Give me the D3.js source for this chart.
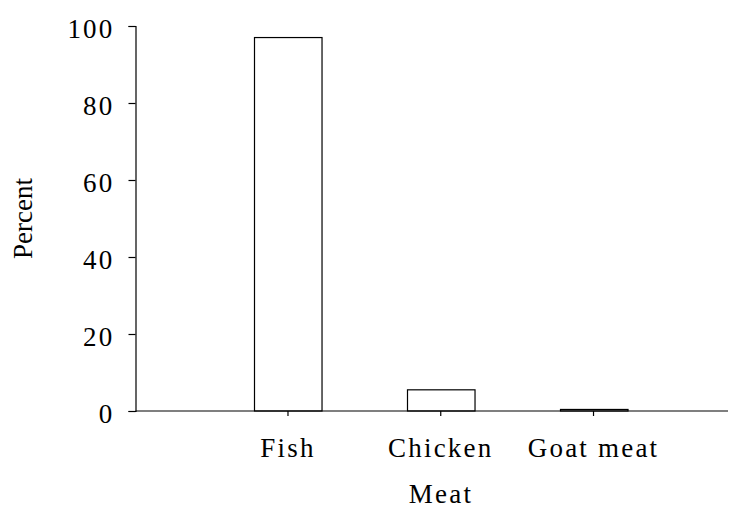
<!DOCTYPE html>
<html>
<head>
<meta charset="utf-8">
<script src="https://cdn.jsdelivr.net/npm/d3@7"></script>
<style>
  html, body { margin: 0; padding: 0; background: #fff; }
  svg { display: block; }
  text { font-family: "Liberation Serif", "Times New Roman", serif; fill: #000; }
</style>
</head>
<body>
<svg></svg>
<script>
// values
var categories = ['Fish', 'Chicken', 'Goat meat'];
var percents = [97, 5.5, 0.4];
var yTicks = [0, 20, 40, 60, 80, 100];

var width = 739;
var height = 509;

var svg = d3.select('svg')
  .attr('width', width)
  .attr('height', height);

var axisX = 135.5;   // y axis position
var axisEnd = 728;   // right end of category axis

var y = d3.scaleLinear()
  .domain([0, 100])
  .range([411, 26]);

var x = d3.scaleBand()
  .domain(categories)
  .range([211.6, 669.9])
  .paddingInner(0.558)
  .paddingOuter(0.279);

var data = categories.map((c, i) => ({ name: c, value: percents[i] }));

// bars
svg.selectAll('.bar')
  .data(data)
  .enter()
  .append('rect')
  .classed('bar', true)
  .attr('x', d => Math.round(x(d.name)) + 0.5)
  .attr('y', d => y(d.value))
  .attr('width', x.bandwidth())
  .attr('height', d => y(0) - y(d.value))
  .attr('fill', '#fff')
  .attr('stroke', '#000')
  .attr('stroke-width', 1.2);

// y axis
var yAxis = svg.append('g')
  .attr('transform', 'translate(' + axisX + ',0)')
  .call(d3.axisLeft(y).tickValues(yTicks).tickSize(7).tickPadding(14));

yAxis.select('.domain').attr('stroke', '#000').attr('stroke-width', 1.2);
yAxis.selectAll('.tick line').attr('stroke', '#000').attr('stroke-width', 1.2);
yAxis.selectAll('.tick text')
  .attr('dy', '0.41em')
  .style('font-size', '27px')
  .style('letter-spacing', '2.2px')
  .style('font-family', '"Liberation Serif", serif');

// category axis line
svg.append('line')
  .attr('x1', axisX)
  .attr('x2', axisEnd)
  .attr('y1', y(0))
  .attr('y2', y(0))
  .attr('stroke', '#000')
  .attr('stroke-width', 1.2);

var xAxis = svg.append('g')
  .attr('transform', 'translate(0,' + y(0) + ')')
  .call(d3.axisBottom(x).tickSize(5).tickPadding(22));

xAxis.select('.domain').remove();
xAxis.selectAll('.tick line').attr('stroke', '#000').attr('stroke-width', 1.2);
xAxis.selectAll('.tick text')
  .attr('dy', '0.71em')
  .style('font-size', '27px')
  .style('letter-spacing', '2.2px')
  .style('font-family', '"Liberation Serif", serif');

// axis titles
svg.append('text')
  .attr('transform', 'translate(32,' + (y(0) + y(100)) / 2 + ') rotate(-90)')
  .attr('text-anchor', 'middle')
  .style('font-size', '27px')
  .text('Percent');

svg.append('text')
  .attr('x', 441)
  .attr('y', 503)
  .attr('text-anchor', 'middle')
  .style('font-size', '27px')
  .style('letter-spacing', '2.2px')
  .text('Meat');
</script>
</body>
</html>
